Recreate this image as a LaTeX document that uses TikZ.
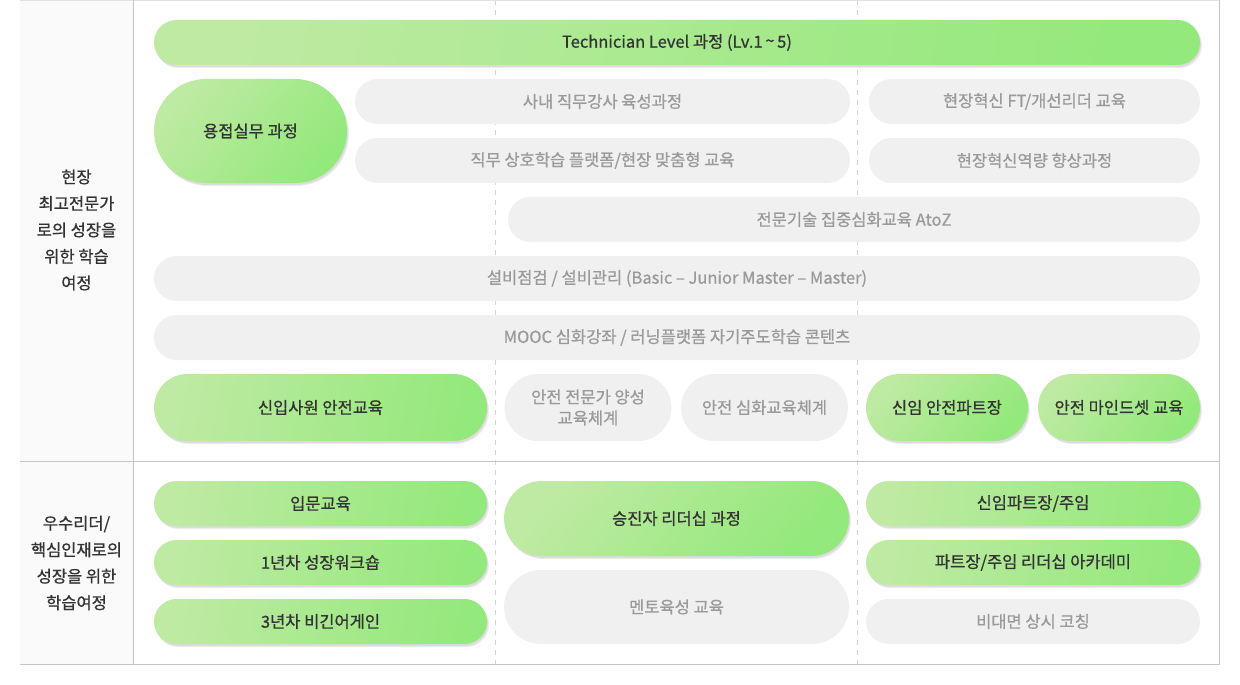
\documentclass[tikz,border=0pt]{standalone}
\usepackage{fontspec}
\setmainfont{Noto Sans CJK KR}[FakeBold=0.8]
\usetikzlibrary{shadows}
\definecolor{lg}{HTML}{BFEAA3}
\definecolor{dg}{HTML}{93E97B}
\definecolor{pg}{HTML}{F0F0F0}
\definecolor{tg}{HTML}{9A9A9A}
\definecolor{td}{HTML}{333333}
\definecolor{ln}{HTML}{C4C4C4}
\definecolor{dl}{HTML}{D4D4D4}
\definecolor{colbg}{HTML}{FAFAFA}
\begin{document}
\begin{tikzpicture}[x=1pt,y=-1pt,
  pillbase/.style n args={3}{rectangle, inner sep=0pt, minimum width=#1pt, minimum height=#2pt, rounded corners=#3pt, font=\fontsize{16.5}{21}\selectfont, align=center},
  graypill/.style n args={2}{pillbase={#1}{#2}{#2/2}, fill=pg, text=tg},
  greenpill/.style n args={2}{pillbase={#1}{#2}{#2/2}, text=td,
     drop shadow={shadow xshift=2pt, shadow yshift=-3pt, opacity=.07, fill=black},
     drop shadow={shadow xshift=1pt, shadow yshift=-2pt, opacity=.07, fill=black},
     left color=lg, right color=dg, shading angle=80},
  greendiag/.style n args={2}{greenpill={#1}{#2}, shading angle=50},
  sidelabel/.style={font=\fontsize{16.5}{26.5}\selectfont, text=td, align=center, inner sep=0pt},
  frameline/.style={draw=ln, line width=1pt},
  guide/.style={draw=dl, line width=0.8pt, dash pattern=on 5pt off 5pt}]
\useasboundingbox (0,0) rectangle (1240,685);
% frame
\fill[colbg] (20,1) rectangle (133,664);
\draw[guide] (495.5,0) -- (495.5,664);
\draw[guide] (857.5,0) -- (857.5,664);
\draw[draw=ln!50, line width=1pt] (20,0.5) -- (1219.5,0.5);
\draw[frameline] (133.5,0) -- (133.5,664);
\draw[frameline] (1219.5,0) -- (1219.5,664);
\draw[frameline] (20,461.5) -- (1219.5,461.5);
\draw[frameline] (20,664.5) -- (1219.5,664.5);
% side labels
\node[sidelabel] (lab1) at (76.5,230) {현장\\최고전문가\\로의 성장을\\위한 학습\\여정};
\node[sidelabel] (lab2) at (76.5,563) {우수리더/\\핵심인재로의\\성장을 위한\\학습여정};
% top section
\node[greenpill={1046}{45}] (tech) at (677,42.5) {Technician Level 과정 (Lv.1\,\raisebox{0.1ex}{\textasciitilde}\,5)};
\node[greendiag={193}{104}] (weld) at (250.5,131) {용접실무 과정};
\node[graypill={495}{45}] (inst) at (602.5,101.5) {사내 직무강사 육성과정};
\node[graypill={331}{45}] (ft) at (1034.5,101.5) {현장혁신 FT/개선리더 교육};
\node[graypill={495}{45}] (plat) at (602.5,160.5) {직무 상호학습 플랫폼/현장 맞춤형 교육};
\node[graypill={331}{45}] (inno) at (1034.5,160.5) {현장혁신역량 향상과정};
\node[graypill={692}{45}] (atoz) at (854,219.5) {전문기술 집중심화교육 AtoZ};
\node[graypill={1046}{45}] (equip) at (677,278.5) {설비점검 / 설비관리 (Basic – Junior Master – Master)};
\node[graypill={1046}{45}] (mooc) at (677,337.5) {MOOC 심화강좌 / 러닝플랫폼 자기주도학습 콘텐츠};
\node[greenpill={333}{67}] (newsafe) at (320.5,407.5) {신입사원 안전교육};
\node[graypill={167}{67}] (safeexp) at (588,407.5) {안전 전문가 양성\\교육체계};
\node[graypill={167}{67}] (safedeep) at (764.5,407.5) {안전 심화교육체계};
\node[greendiag={162}{67}] (safepart) at (947,407.5) {신임 안전파트장};
\node[greendiag={162}{67}] (mindset) at (1119,407.5) {안전 마인드셋 교육};
% bottom section
\node[greenpill={333}{45}] (intro) at (320.5,503.5) {입문교육};
\node[greenpill={333}{45}] (yr1) at (320.5,562.5) {1년차 성장워크숍};
\node[greenpill={333}{45}] (yr3) at (320.5,621.5) {3년차 비긴어게인};
\node[greendiag={345}{75}] (promo) at (676.5,518.5) {승진자 리더십 과정};
\node[graypill={345}{74}] (mentor) at (676.5,607) {멘토육성 교육};
\node[greenpill={334}{45}] (newpart) at (1033,503.5) {신임파트장/주임};
\node[greenpill={334}{45}] (academy) at (1033,562.5) {파트장/주임 리더십 아카데미};
\node[graypill={334}{45}] (coach) at (1033,621.5) {비대면 상시 코칭};
\end{tikzpicture}
\end{document}
